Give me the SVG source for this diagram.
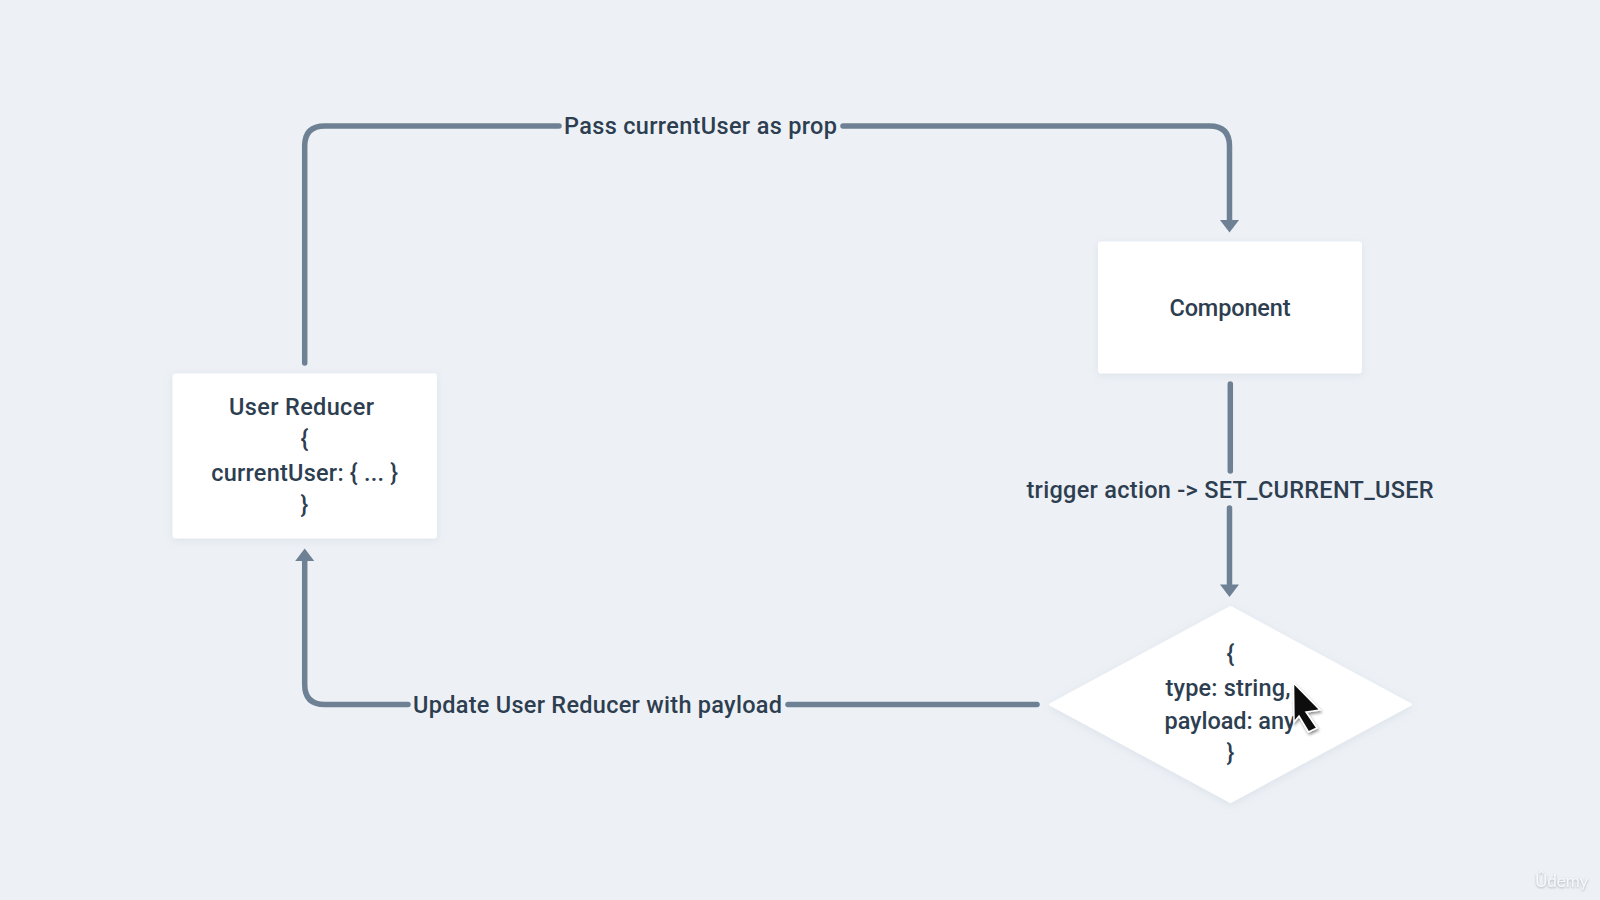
<svg xmlns="http://www.w3.org/2000/svg" width="1600" height="900" viewBox="0 0 1600 900">
<style>
.t{font-family:Roboto,"Liberation Sans",sans-serif;font-size:23.5px;font-weight:500;fill:#2d3e50;text-anchor:middle}
.n{fill:#fff;filter:url(#sh)}
.c{fill:none;stroke:#6e8093;stroke-width:5.5;stroke-linecap:round;stroke-linejoin:round}
.ah{fill:#6e8093}
</style>
<defs>
<filter id="sh" x="-10%" y="-10%" width="120%" height="125%"><feDropShadow dx="0" dy="2" stdDeviation="4" flood-color="#a8b4c4" flood-opacity=".25"/></filter>
<filter id="cs" x="-30%" y="-30%" width="170%" height="170%"><feDropShadow dx="1" dy="2" stdDeviation="1.6" flood-color="#000" flood-opacity=".45"/></filter>
<filter id="ws" x="-20%" y="-30%" width="140%" height="160%"><feDropShadow dx="0" dy="1" stdDeviation="1" flood-color="#8a929c" flood-opacity=".7"/></filter>
</defs>
<rect width="1600" height="900" fill="#edf1f6"/>
<g id="connectors">
<path class="c" d="M304.700 363V146Q304.700 126 324.700 126H559"/>
<path class="c" d="M843 126H1209.500Q1229.500 126 1229.500 146V222"/>
<path class="ah" d="M1220 220H1239L1229.500 232.500Z"/>
<path class="c" d="M1230.300 384V471"/>
<path class="c" d="M1229.500 508V588"/>
<path class="ah" d="M1220 584.500H1239L1229.500 597Z"/>
<path class="c" d="M1037 704.500H788"/>
<path class="c" d="M408 704.500H324.700Q304.700 704.500 304.700 684.500V558"/>
<path class="ah" d="M295.200 561H314.200L304.700 548.500Z"/>
</g>
<g id="label-pass"><text class="t" x="700.500" y="134" textLength="273">Pass currentUser as prop</text></g>
<g id="label-trigger"><text class="t" x="1230" y="498" textLength="407">trigger action -&gt; SET_CURRENT_USER</text></g>
<g id="label-update"><text class="t" x="597.500" y="712.500" textLength="369">Update User Reducer with payload</text></g>
<g id="component"><rect class="n" x="1098" y="241.500" width="264" height="132" rx="3"/><text class="t" x="1230" y="315.500" textLength="121">Component</text></g>
<g id="user-reducer"><rect class="n" x="172.500" y="373.500" width="264.500" height="165" rx="3"/>
<text class="t" x="301.500" y="414.500" textLength="145">User Reducer</text>
<text class="t" x="304.500" y="447">{</text>
<text class="t" x="304.700" y="481" textLength="187">currentUser: { ... }</text>
<text class="t" x="304.500" y="513">}</text></g>
<g id="action"><path class="n" d="M1230.500 607L1411 704.500L1230.500 802L1050 704.500Z" stroke="#fff" stroke-width="2" stroke-linejoin="round"/>
<text class="t" x="1230.500" y="662">{</text>
<text class="t" x="1228" y="696" textLength="125">type: string,</text>
<text class="t" x="1230" y="729" textLength="131">payload: any</text>
<text class="t" x="1230.500" y="761">}</text></g>
<path id="cursor" d="M1293.500 683L1320 710L1306 712L1317 728L1308.500 732L1299 716L1294 722Z" fill="#111" stroke="#fff" stroke-width="1.500" filter="url(#cs)"/>
<text x="1535" y="887" font-family="Lato,sans-serif" font-size="17" fill="#f6f8fa" filter="url(#ws)">Ûdemy</text>
</svg>
